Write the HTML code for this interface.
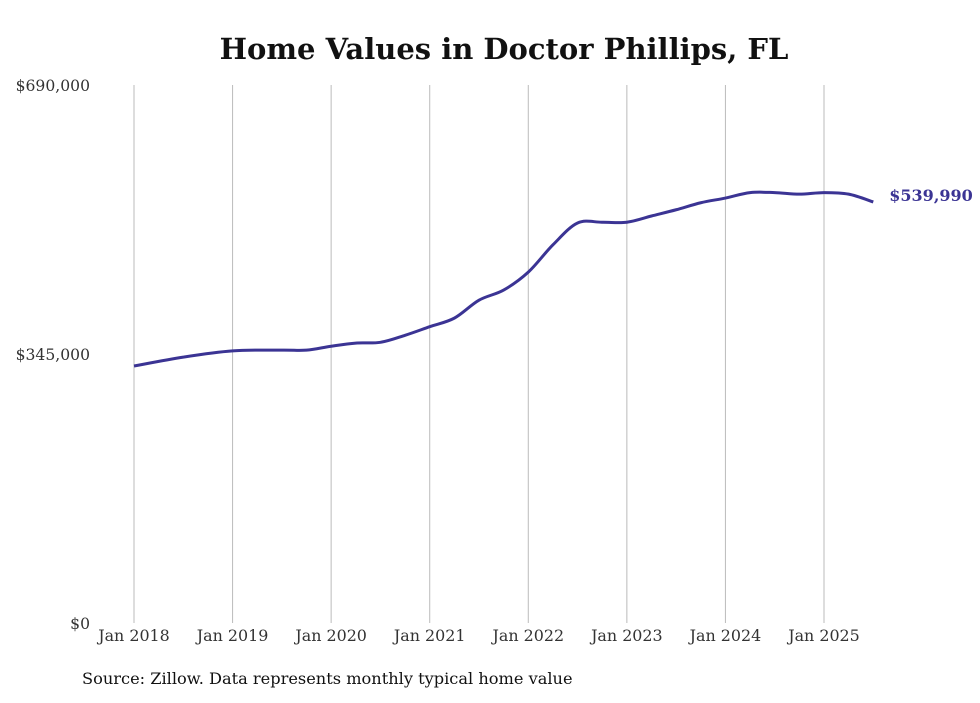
<!DOCTYPE html>
<html><head><meta charset="utf-8"><style>
body{margin:0;background:#fff;width:980px;height:699px;overflow:hidden;font-family:"DejaVu Serif","Liberation Serif",serif;}
</style></head><body>
<svg id="chart" width="980" height="699" xmlns="http://www.w3.org/2000/svg">
<text x="504" y="59" text-anchor="middle" font-size="29" font-weight="bold" fill="#111">Home Values in Doctor Phillips, FL</text>
<g id="grid"></g>
<g id="yaxis"></g>
<g id="xaxis"></g>
<path id="line" fill="none" stroke="#3b3494" stroke-width="3"/>
<text id="endlabel" font-size="16" font-weight="bold" fill="#3b3494"></text>
<text x="82" y="684" font-size="16.2" fill="#111">Source: Zillow. Data represents monthly typical home value</text>
</svg>
<script>
const months=[0,6,12,18,21,24,27,30,33,36,39,42,45,48,51,54,57,60,63,66,69,72,75,78,81,84,87,90];
const values=[329600,341000,349000,350000,350000,355000,359000,360000,369000,380000,391000,414000,427000,450000,485000,513000,514000,514000,522000,530000,539000,545000,552000,552000,550000,552000,550000,539990];
const yTicks=[0,345000,690000];
const yTickLabels=["$0","$345,000","$690,000"];
const xTickYears=[2018,2019,2020,2021,2022,2023,2024,2025];
const NS="http://www.w3.org/2000/svg";
const x=m=>134+m*(690/84);
const y=v=>623-v*(538/690000);
function el(t,a,p,txt){const e=document.createElementNS(NS,t);for(const k in a)e.setAttribute(k,a[k]);if(txt!=null)e.textContent=txt;p.appendChild(e);return e;}
const grid=document.getElementById('grid'),ya=document.getElementById('yaxis'),xa=document.getElementById('xaxis');
xTickYears.forEach((yr,i)=>{const xx=x(i*12);
const l=el('line',{x1:xx,x2:xx,y1:85,y2:623,stroke:'#bbb','stroke-width':1},grid);


const t=el('text',{x:xx,y:641,'text-anchor':'middle','font-size':15.9,fill:'#333'},xa,'Jan '+yr);

});
yTicks.forEach((v,i)=>{const t=el('text',{x:90,y:y(v)+6,'text-anchor':'end','font-size':15.6,fill:'#333'},ya,yTickLabels[i]);

});
const P=months.map((m,i)=>[x(m),y(values[i])]);
let d='M'+P[0][0]+','+P[0][1];
for(let i=0;i<P.length-1;i++){const p0=P[i-1]||P[i],p1=P[i],p2=P[i+1],p3=P[i+2]||P[i+1];
d+=` C${p1[0]+(p2[0]-p0[0])/6},${p1[1]+(p2[1]-p0[1])/6} ${p2[0]-(p3[0]-p1[0])/6},${p2[1]-(p3[1]-p1[1])/6} ${p2[0]},${p2[1]}`;}
document.getElementById('line').setAttribute('d',d);
const last=P[P.length-1],lb=document.getElementById('endlabel');
lb.setAttribute('x',last[0]+16);lb.setAttribute('y',last[1]-1);
lb.textContent='$'+values[values.length-1].toLocaleString('en-US');
</script>
</body></html>
